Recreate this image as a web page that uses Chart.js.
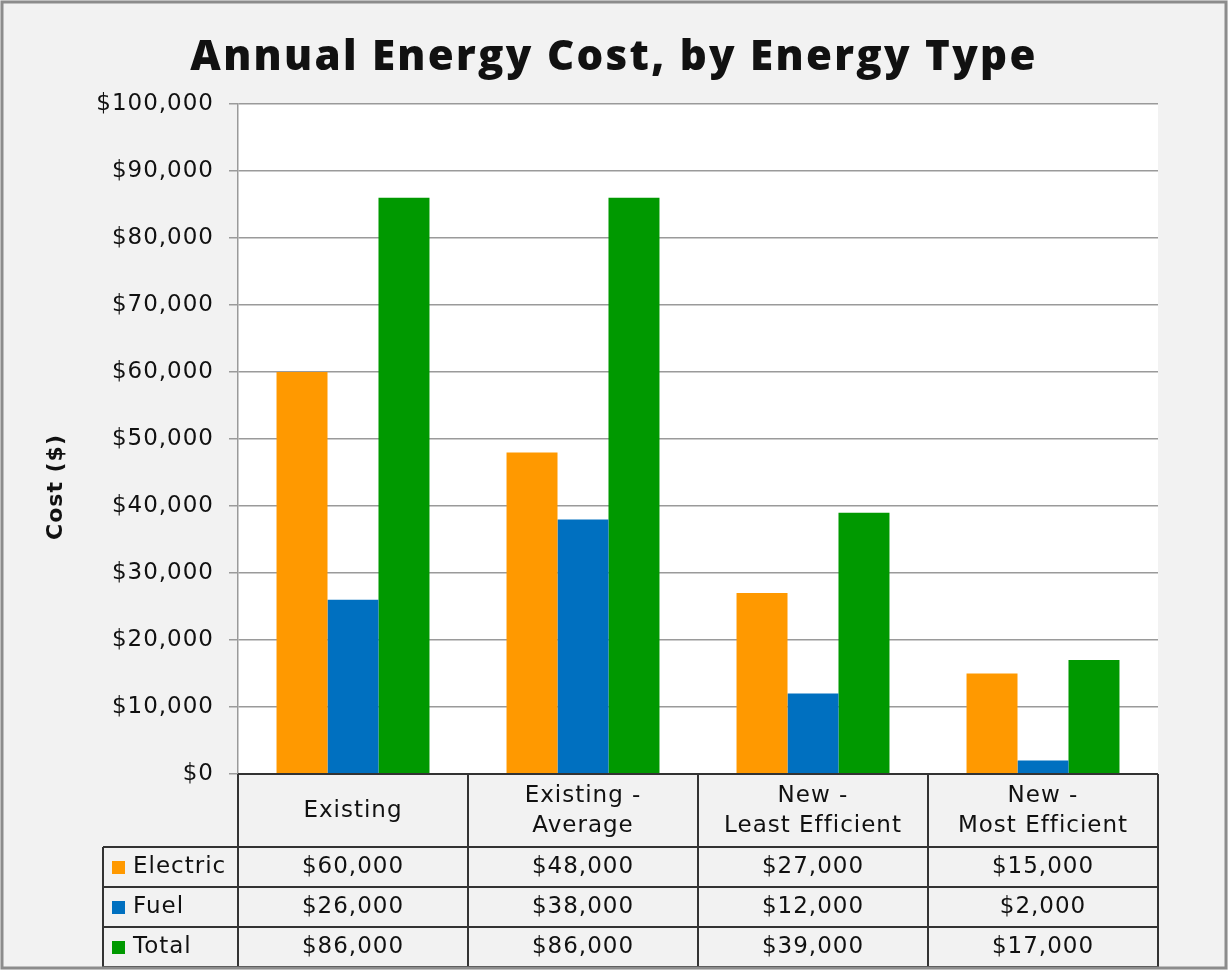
<!DOCTYPE html>
<html>
<head>
<meta charset="utf-8">
<script src="https://cdn.jsdelivr.net/npm/chart.js@4"></script>
<style>
  html, body { margin: 0; padding: 0; background: #f2f2f2; }
  #wrap { width: 1228px; height: 970px; }
</style>
</head>
<body>
<div id="wrap"><canvas id="costChart" width="1228" height="970"></canvas></div>
<script>
// Chart data
const categories = [['Existing'], ['Existing -', 'Average'], ['New -', 'Least Efficient'], ['New -', 'Most Efficient']];
const seriesNames = ['Electric', 'Fuel', 'Total'];
const electricCost = [60000, 48000, 27000, 15000];
const fuelCost = [26000, 38000, 12000, 2000];
const totalCost = [86000, 86000, 39000, 17000];
const seriesColors = ['#ff9900', '#0070c0', '#009900'];
const yTicks = [0, 10000, 20000, 30000, 40000, 50000, 60000, 70000, 80000, 90000, 100000];

const FONT = '"DejaVu Sans", sans-serif';
const TITLE_FONT = '"Open Sans", sans-serif';
const SPACING = '1px';

function money(v) {
    return '$' + v.toLocaleString('en-US');
}

// Background, data table, titles and frame
const decorPlugin = {
    id: 'decor',
    beforeDraw(chart) {
        const ctx = chart.ctx;
        const a = chart.chartArea;
        ctx.fillStyle = '#f2f2f2';
        ctx.fillRect(0, 0, chart.width, chart.height);
        ctx.fillStyle = '#ffffff';
        ctx.fillRect(a.left, a.top, a.right - a.left, a.bottom - a.top);
        // wide lettering like the original
        ctx.letterSpacing = SPACING;
    },
    afterDraw(chart) {
        const ctx = chart.ctx;
        const a = chart.chartArea;
        const xScale = chart.scales.x;
        const colW = (a.right - a.left) / categories.length;
        const headBottom = a.bottom + 73;
        const rowH = 40;
        const tableBottom = headBottom + rowH * seriesNames.length;
        const legendLeft = 103;
        const seriesData = [electricCost, fuelCost, totalCost];

        ctx.save();
        ctx.letterSpacing = SPACING;
        ctx.strokeStyle = '#333333';
        ctx.lineWidth = 2;

        // horizontal lines
        ctx.beginPath();
        ctx.moveTo(a.left, a.bottom);
        ctx.lineTo(a.right, a.bottom);
        for (let r = 0; r <= seriesNames.length; r++) {
            const y = headBottom + r * rowH;
            ctx.moveTo(legendLeft, y);
            ctx.lineTo(a.right, y);
        }
        // vertical lines
        for (let c = 0; c <= categories.length; c++) {
            const x = a.left + c * colW;
            ctx.moveTo(x, a.bottom);
            ctx.lineTo(x, tableBottom);
        }
        ctx.moveTo(legendLeft, headBottom);
        ctx.lineTo(legendLeft, tableBottom);
        ctx.stroke();

        ctx.fillStyle = '#111111';
        ctx.font = '23px ' + FONT;
        ctx.textAlign = 'center';
        ctx.textBaseline = 'middle';

        // header cells
        categories.forEach((lines, i) => {
            const cx = xScale.getPixelForValue(i);
            const cy = (a.bottom + headBottom) / 2 + 1;
            const lh = 30;
            lines.forEach((t, j) => {
                ctx.fillText(t, cx, cy + (j - (lines.length - 1) / 2) * lh);
            });
        });

        // data rows
        seriesNames.forEach((name, r) => {
            const cy = headBottom + r * rowH + rowH / 2;
            ctx.fillStyle = seriesColors[r];
            ctx.fillRect(112, cy - 6, 13, 13);
            ctx.fillStyle = '#111111';
            ctx.textAlign = 'left';
            ctx.fillText(name, 133, cy);
            ctx.textAlign = 'center';
            seriesData[r].forEach((v, i) => {
                ctx.fillText(money(v), xScale.getPixelForValue(i), cy);
            });
        });

        // chart title
        ctx.letterSpacing = '2.3px';
        ctx.textBaseline = 'alphabetic';
        ctx.font = '800 42px ' + TITLE_FONT;
        ctx.fillText('Annual Energy Cost, by Energy Type', 614, 70);

        // y axis title
        ctx.save();
        ctx.letterSpacing = '1px';
        ctx.translate(56, 487);
        ctx.rotate(-Math.PI / 2);
        ctx.textBaseline = 'middle';
        ctx.font = 'bold 22px ' + FONT;
        ctx.fillText('Cost ($)', 0, 0);
        ctx.restore();

        // outer frame
        ctx.strokeStyle = '#8c8c8c';
        ctx.lineWidth = 3;
        ctx.strokeRect(2, 2, chart.width - 4, chart.height - 4);
        ctx.restore();
    }
};

new Chart(document.getElementById('costChart'), {
    type: 'bar',
    data: {
        labels: categories,
        datasets: seriesNames.map((name, i) => ({
            label: name,
            data: [electricCost, fuelCost, totalCost][i],
            backgroundColor: seriesColors[i],
            borderWidth: 0,
            categoryPercentage: 0.665,
            barPercentage: 1.0
        }))
    },
    options: {
        responsive: false,
        animation: false,
        layout: {
            padding: { top: 104, bottom: 196, left: 0, right: 70 }
        },
        plugins: {
            legend: { display: false },
            title: { display: false },
            tooltip: { enabled: false }
        },
        scales: {
            x: {
                display: false
            },
            y: {
                min: 0,
                max: 100000,
                afterFit(scale) {
                    scale.width = 238;
                },
                afterBuildTicks(scale) {
                    scale.ticks = yTicks.map(v => ({ value: v }));
                },
                border: { display: true, color: '#9a9a9a', width: 1.5 },
                grid: {
                    color: '#9a9a9a',
                    lineWidth: 1.5,
                    drawTicks: true,
                    tickLength: 9
                },
                ticks: {
                    padding: 15,
                    color: '#111111',
                    font: { family: FONT, size: 23 },
                    callback: function(value) {
                        return money(value);
                    }
                }
            }
        }
    },
    plugins: [decorPlugin]
});
</script>
</body>
</html>
